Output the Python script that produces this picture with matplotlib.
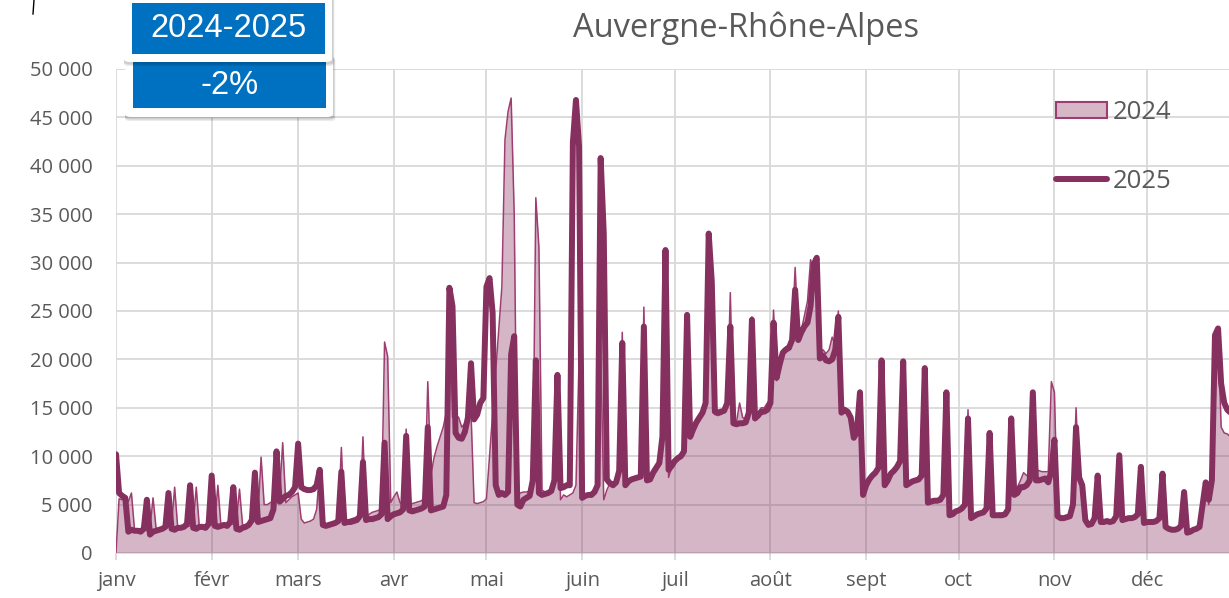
import numpy as np
import matplotlib
matplotlib.use("Agg")
import matplotlib.pyplot as plt
from matplotlib.patches import Patch, FancyBboxPatch
from matplotlib.lines import Line2D

# ============================================================
# DATA (daily values, thousands; index 0 = 1 January)
# ============================================================
month_labels = ['janv', 'févr', 'mars', 'avr', 'mai', 'juin',
                'juil', 'août', 'sept', 'oct', 'nov', 'déc']
month_lengths = [31, 28, 31, 30, 31, 30, 31, 31, 30, 31, 30, 31]

# 2024 (area) - None = no value for that day, the line jumps over it
values_2024 = [
    0.0, 5.6, 5.5, 5.6, 5.3, 6.2, 2.4,
    2.3, 2.4, 2.5, 2.3, 2.6, 5.7, 2.5,
    2.4, 2.5, 2.6, 2.7, 2.8, 6.8, 2.6,
    2.5, 2.6, 2.7, 2.8, 3.0, 6.8, 2.7,
    2.6, 2.7, 2.8, 2.9, 3.1, 7.0, 2.8,
    2.7, 2.8, 2.9, 3.0, 3.2, 6.6, 2.9,
    2.9, 3.0, 3.1, 3.3, 4.0, 9.9, 5.0,
    5.0, 5.2, 5.4, 5.6, 6.2, 11.4, 5.2,
    5.5, 5.8, 6.0, 6.2, 3.5, 3.1, 3.2,
    3.3, 3.5, 4.5, 8.8, 3.0, 2.9, 3.0,
    3.1, 3.2, 3.4, 10.9, 3.3, 3.4, 3.5,
    3.6, 3.7, 4.0, 12.0, 3.5, 4.0, 4.2,
    4.3, 4.4, 4.6, 21.8, 20.3, 5.2, 5.8,
    6.3, 5.2, 5.0, 12.8, 5.0, 5.1, 5.2,
    5.3, 5.4, 5.8, 17.7, 8.0, 9.8, 11.0,
    12.0, 13.0, 14.5, 26.5, 14.0, 14.3, 14.0,
    13.0, 13.4, 14.0, 14.5, 5.2, 5.1, 5.2,
    5.3, 5.6, None, None, None, None, 27.5,
    42.7, 45.6, 47.0, 35.0, 6.0, 6.2, 6.3,
    6.3, 6.4, 6.5, 36.7, 31.6, 6.5, 6.3,
    6.3, 6.4, 7.0, 18.0, 5.5, 6.0, 5.8,
    6.0, 6.2, 7.0, 20.0, 5.5, 5.9, 6.0,
    6.0, 6.2, 7.0, 21.7, 5.5, 6.5, 7.2,
    7.2, 7.3, 8.0, 22.8, 7.0, 7.4, 7.6,
    7.7, 7.8, 8.0, 25.4, 7.5, 7.6, 8.0,
    8.5, 9.0, 11.0, 30.5, 7.8, 8.8, 9.3,
    9.6, 10.0, 10.5, 24.6, 12.3, 13.0, 13.8,
    14.2, 14.6, 15.8, 32.5, 27.5, 14.3, 14.2,
    14.3, 14.5, 15.3, 26.9, 13.4, 13.5, 15.5,
    14.0, 13.8, 14.8, 24.4, 14.2, 14.5, 15.0,
    15.0, 15.5, 16.0, 25.1, 17.8, 20.0, 21.0,
    21.3, 21.5, 22.3, 29.5, 22.5, 23.0, 24.5,
    26.0, 30.3, 29.0, 28.5, 20.5, 21.0, 20.6,
    21.0, 22.3, 21.5, 25.0, 15.0, 14.8, 14.3,
    14.0, 12.2, 13.0, 16.8, 6.3, 7.2, 7.8,
    8.2, 8.5, 9.0, 19.5, 7.2, 7.6, 8.3,
    8.6, 9.0, 9.6, 19.5, 7.2, 7.3, 7.5,
    7.6, 7.7, 8.2, 19.0, 5.4, 5.5, 5.6,
    5.6, 5.7, 6.2, 16.3, 4.1, 4.2, 4.4,
    4.5, 4.7, 5.2, 14.8, 3.8, 3.9, 4.1,
    4.2, 4.3, 4.8, 12.6, 4.0, 4.0, 4.1,
    4.1, 4.2, 4.7, 14.1, 6.3, 6.8, 7.5,
    8.3, 8.0, 8.2, 16.5, 8.6, 8.5, 8.4,
    8.4, 8.4, 17.7, 16.6, 4.0, 3.8, 3.7,
    3.8, 3.9, 5.2, 15.0, 7.3, 6.5, 3.5,
    3.0, 3.1, 3.7, 8.2, 3.3, 3.3, 3.4,
    3.3, 3.4, 3.9, 9.9, 3.5, 3.6, 3.7,
    3.7, 3.8, 4.1, 9.1, 3.2, 3.3, 3.3,
    3.3, 3.4, 3.7, 8.0, 2.8, 2.6, 2.5,
    2.5, 2.6, 2.9, 6.1, 2.2, 2.3, 2.5,
    2.6, 2.8, 4.8, 7.0, 5.0, 7.3, 22.0,
    22.8, 13.0, 12.4, 12.3, 12.0,
]

# 2025 (thick line)
values_2025 = [
    10.2, 6.2, 5.9, 5.7, 2.2, 2.4, 2.3,
    2.3, 2.2, 2.5, 5.5, 1.9, 2.2, 2.3,
    2.4, 2.5, 2.7, 6.2, 2.5, 2.4, 2.6,
    2.6, 2.7, 3.0, 7.0, 2.6, 2.5, 2.7,
    2.7, 2.6, 3.0, 8.0, 2.8, 2.7, 2.8,
    2.9, 2.8, 3.2, 6.8, 2.5, 2.4, 2.6,
    2.7, 2.9, 3.4, 8.3, 3.2, 3.3, 3.4,
    3.5, 3.6, 4.5, 10.5, 5.3, 5.6, 5.9,
    6.0, 6.3, 6.8, 11.3, 6.8, 6.6, 6.5,
    6.5, 6.6, 7.0, 8.6, 2.9, 2.8, 2.9,
    3.0, 3.1, 3.3, 8.4, 3.1, 3.2, 3.2,
    3.3, 3.4, 3.8, 9.4, 3.4, 3.5, 3.5,
    3.6, 3.7, 4.0, 11.4, 3.5, 3.8, 4.0,
    4.1, 4.2, 4.5, 12.1, 4.4, 4.3, 4.4,
    4.5, 4.6, 4.8, 13.0, 4.4, 4.5, 4.6,
    4.7, 4.8, 6.0, 27.4, 25.5, 12.4, 11.9,
    11.8, 12.5, 14.0, 19.6, 13.8, 14.3, 15.5,
    16.0, 27.5, 28.4, 24.8, 7.0, 6.0, 6.2,
    6.0, 6.3, 20.5, 22.4, 5.0, 4.8, 5.5,
    5.7, 5.9, 7.5, 19.9, 6.2, 6.0, 6.1,
    6.2, 6.4, 7.5, 18.4, 6.7, 6.8, 7.0,
    7.0, 42.4, 46.8, 42.0, 5.7, 5.9, 6.0,
    6.0, 6.3, 7.0, 40.8, 33.0, 7.6, 7.2,
    7.0, 7.3, 8.5, 21.7, 7.0, 7.4, 7.6,
    7.7, 7.8, 7.9, 23.4, 7.5, 7.6, 8.3,
    8.8, 9.3, 12.0, 31.3, 8.6, 9.0, 9.5,
    9.8, 10.0, 10.5, 24.6, 12.0, 12.8, 13.5,
    14.0, 14.5, 15.5, 33.0, 28.0, 14.6, 14.5,
    14.6, 14.7, 15.5, 23.4, 13.4, 13.3, 13.4,
    13.4, 13.5, 14.5, 24.1, 13.9, 14.2, 14.6,
    14.6, 14.8, 15.5, 23.8, 18.1, 19.5, 20.7,
    21.0, 21.2, 22.0, 27.2, 22.0, 22.8, 23.4,
    23.8, 25.5, 29.8, 30.5, 20.1, 20.4, 19.9,
    19.8, 20.0, 21.0, 24.4, 14.5, 14.8, 14.6,
    14.0, 11.9, 12.5, 16.6, 6.0, 7.0, 7.6,
    8.0, 8.3, 8.8, 19.9, 7.0, 7.5, 8.2,
    8.5, 8.9, 9.5, 19.8, 7.0, 7.2, 7.4,
    7.5, 7.6, 8.0, 19.1, 5.2, 5.3, 5.4,
    5.4, 5.5, 6.0, 16.6, 3.9, 4.0, 4.3,
    4.4, 4.6, 5.0, 13.9, 3.6, 3.8, 4.0,
    4.1, 4.2, 4.6, 12.4, 3.9, 3.9, 3.9,
    3.9, 4.0, 4.5, 13.9, 6.0, 6.2, 6.8,
    6.8, 7.0, 7.5, 16.6, 7.5, 7.5, 7.6,
    7.7, 7.3, 8.5, 11.7, 3.8, 3.6, 3.6,
    3.7, 3.8, 5.0, 13.0, 7.8, 7.0, 3.4,
    2.9, 3.0, 3.6, 8.0, 3.2, 3.2, 3.3,
    3.2, 3.3, 3.8, 10.1, 3.4, 3.5, 3.6,
    3.6, 3.7, 4.0, 8.9, 3.1, 3.2, 3.2,
    3.2, 3.3, 3.6, 8.2, 2.7, 2.5, 2.4,
    2.4, 2.5, 2.8, 6.3, 2.1, 2.2, 2.4,
    2.5, 2.7, 5.0, 7.3, 5.5, 7.5, 22.5,
    23.2, 17.5, 15.5, 14.8, 14.5,
]

title = 'Auvergne-Rhône-Alpes'
badge_period = '2024-2025'
badge_change = '-2%'

# ============================================================
# STYLE
# ============================================================
W, H = 1229, 598
COL_2025 = '#85305e'
COL_2024_LINE = '#9e3d71'
GRID = '#d9d9d9'
TXT = '#595959'
BLUE = '#0070c0'
FONT = ['Open Sans', 'DejaVu Sans']

plt.rcParams['font.family'] = FONT

fig = plt.figure(figsize=(W / 100, H / 100), dpi=100)
ax = fig.add_axes([116 / W, (H - 553) / H, (W - 116) / W, (553 - 69) / H])

# 2024 series: skip missing days, the line links the neighbours
d24 = np.array([i for i, v in enumerate(values_2024) if v is not None])
v24 = np.array([v for v in values_2024 if v is not None])
d25 = np.arange(len(values_2025))
v25 = np.array(values_2025)

ax.fill_between(d24, 0, v24, color=COL_2025, alpha=0.35, lw=0, zorder=2)
ax.plot(d24, v24, color=COL_2024_LINE, lw=1.1, zorder=3)
ax.plot(d25, v25, color=COL_2025, lw=4.3, zorder=4,
        solid_joinstyle='round', solid_capstyle='round')

# axes
month_starts = np.concatenate([[0], np.cumsum(month_lengths)[:-1]])
ax.set_xlim(0, (W - 116) / 3.087)
ax.set_ylim(0, 50)
ax.set_xticks(month_starts)
ax.set_xticklabels(month_labels)
yt = np.arange(0, 51, 5)
ax.set_yticks(yt)
ax.set_yticklabels([f'{int(v * 1000):,}'.replace(',', ' ') for v in yt])
ax.grid(True, color=GRID, lw=1.3, zorder=0)
ax.set_axisbelow(True)
for s in ax.spines.values():
    s.set_visible(False)
ax.tick_params(axis='x', length=5, width=1.3, color=GRID, pad=8,
               labelsize=14.5, labelcolor=TXT)
ax.tick_params(axis='y', length=0, pad=17, labelsize=14.5, labelcolor=TXT)

# legend
handles = [Patch(facecolor=(0.835, 0.718, 0.776), edgecolor=COL_2024_LINE, lw=1.5),
           Line2D([0], [0], color=COL_2025, lw=4.3, solid_capstyle='round')]
leg = ax.legend(handles, ['2024', '2025'], loc='upper left',
                bbox_to_anchor=(1056 / W, 1 - 100 / H), bbox_transform=fig.transFigure,
                frameon=False, fontsize=18.5, handlelength=2.0, handleheight=0.62,
                handletextpad=0.22, labelspacing=1.7, borderpad=0, borderaxespad=0)
for t in leg.get_texts():
    t.set_color(TXT)

# title
fig.text(746 / W, 1 - 28 / H, title, ha='center', va='center',
         fontsize=23.5, color=TXT)

# badges top-left
def badge(x0, y0, x1, y1, bx0, by0, bx1, by1, label):
    # white frame with soft shadow, then blue box
    for off, a in [(4, 0.08), (2.5, 0.12)]:
        sh = FancyBboxPatch((x0 / W, 1 - (y1 + off) / H), (x1 - x0 + off * 0.6) / W,
                            (y1 - y0) / H, boxstyle='round,pad=0,rounding_size=0.004',
                            transform=fig.transFigure, fc='black', ec='none', alpha=a)
        fig.add_artist(sh)
    fr = FancyBboxPatch((x0 / W, 1 - y1 / H), (x1 - x0) / W, (y1 - y0) / H,
                        boxstyle='round,pad=0,rounding_size=0.005',
                        transform=fig.transFigure, fc='white', ec='none')
    fig.add_artist(fr)
    bl = plt.Rectangle((bx0 / W, 1 - by1 / H), (bx1 - bx0) / W, (by1 - by0) / H,
                       transform=fig.transFigure, fc=BLUE, ec='none')
    fig.add_artist(bl)
    fig.text((bx0 + bx1) / 2 / W, 1 - (by0 + by1) / 2 / H, label, ha='center',
             va='center', fontsize=23.5, color='white',
             family=['Liberation Sans', 'DejaVu Sans'])

badge(125, 54, 333, 117, 133, 62, 326, 108, badge_change)
badge(124, -6, 332, 62, 132, 3, 325, 54, badge_period)

# small stray stroke at top-left of the original
fig.add_artist(Line2D([34 / W, 33 / W], [1.0, 1 - 14 / H], color='black', lw=1,
                      transform=fig.transFigure))

fig.savefig('out.png', dpi=100)
